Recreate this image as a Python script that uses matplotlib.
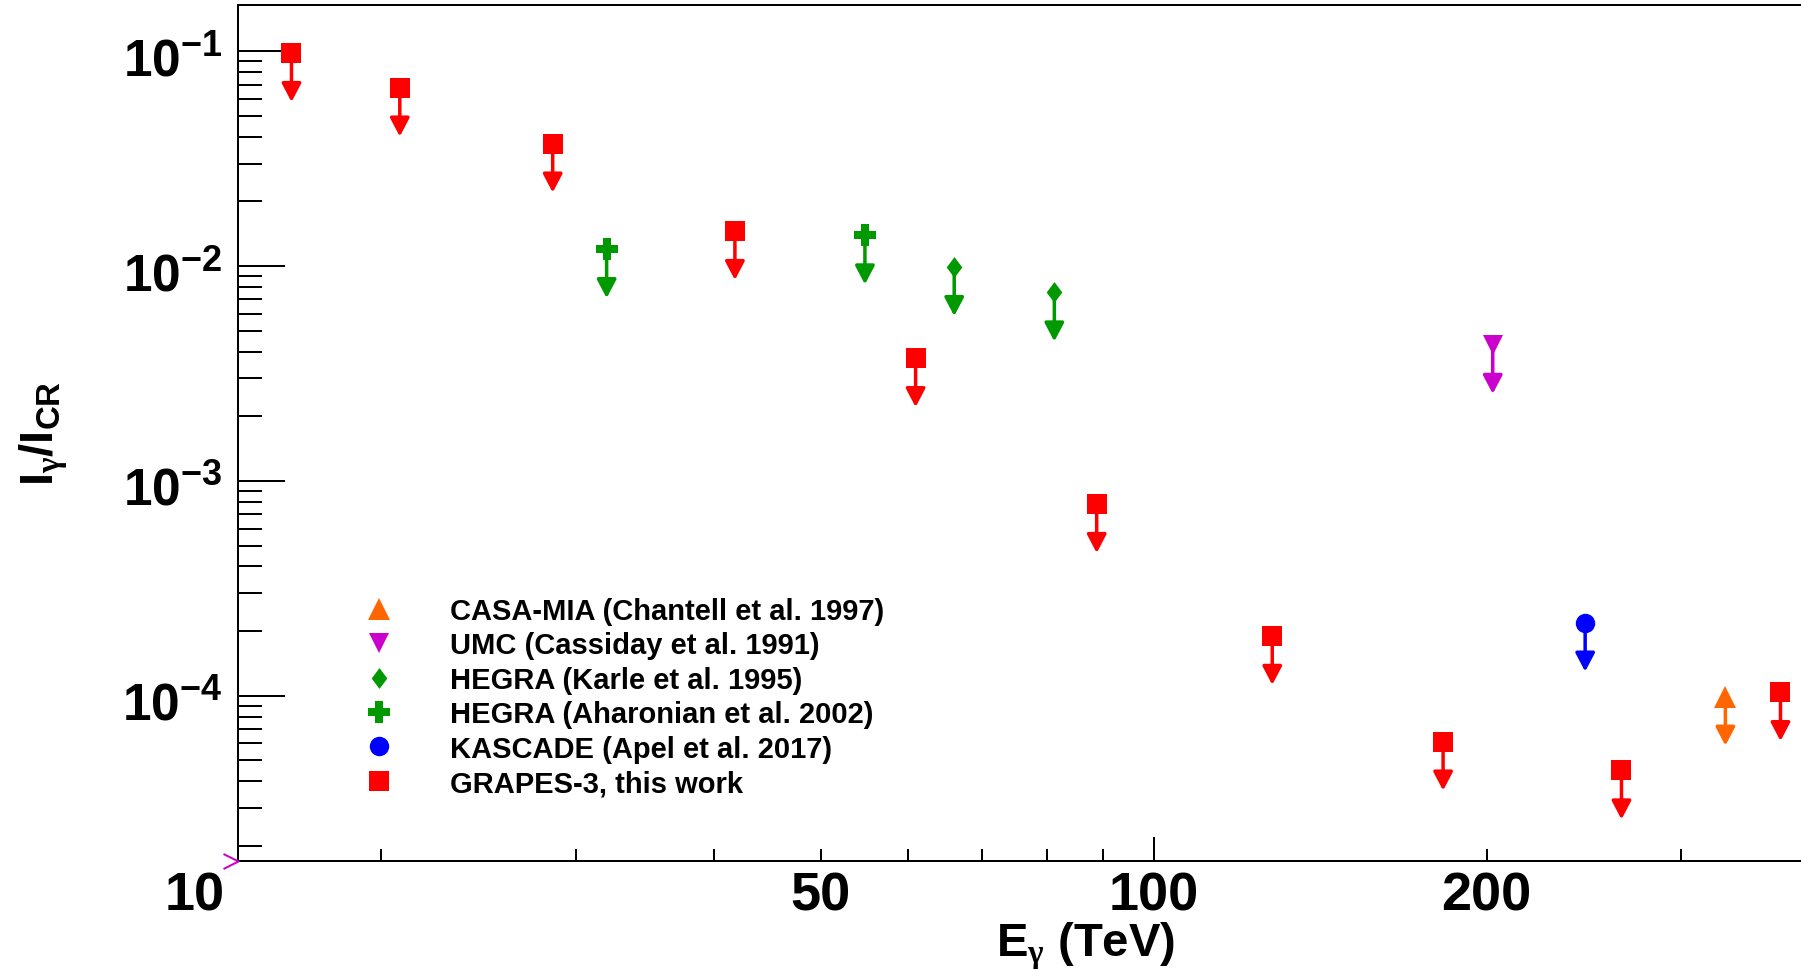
import numpy as np
import matplotlib
matplotlib.use('Agg')
import matplotlib.pyplot as plt
from matplotlib.lines import Line2D
from matplotlib.path import Path
from matplotlib.ticker import NullFormatter, LogLocator
from matplotlib.transforms import ScaledTranslation

plt.rcParams['font.family'] = 'Liberation Sans'
plt.rcParams['font.weight'] = 'bold'
plt.rcParams['mathtext.fontset'] = 'custom'
plt.rcParams['mathtext.rm'] = 'Liberation Sans:bold'
plt.rcParams['mathtext.it'] = 'Liberation Sans:bold'
plt.rcParams['mathtext.bf'] = 'Liberation Sans:bold'
plt.rcParams['mathtext.sf'] = 'Liberation Serif'

# upper limits, E in TeV, I_gamma/I_CR
grapes_e  = [16.6, 20.8, 28.6, 41.8, 60.9, 88.8, 128.0, 182.7, 264.9, 368.9]
grapes_ul = [0.0982, 0.0678, 0.0372, 0.01457, 0.00373, 7.81e-4, 1.90e-4, 6.12e-5, 4.49e-5, 1.04e-4]
hegra02_e  = [32.0, 54.8]
hegra02_ul = [0.0120, 0.0139]
hegra95_e  = [66.0, 81.3]
hegra95_ul = [0.0099, 0.00754]
umc_e  = [202.6]
umc_ul = [4.3e-3]
kascade_e  = [245.6]
kascade_ul = [2.19e-4]
casa_e  = [328.9]
casa_ul = [9.9e-5]

labels = ['CASA-MIA (Chantell et al. 1997)', 'UMC (Cassiday et al. 1991)',
          'HEGRA (Karle et al. 1995)', 'HEGRA (Aharonian et al. 2002)',
          'KASCADE (Apel et al. 2017)', 'GRAPES-3, this work']

xticks = [50, 100, 200]
xtick_labels = ['50', '100', '200']
xminor = [20, 30, 40, 60, 70, 80, 90, 300]
yticks = [1e-4, 1e-3, 1e-2, 1e-1]
ytick_labels = [r'$10^{-4}$', r'$10^{-3}$', r'$10^{-2}$', r'$10^{-1}$']

red = '#ff0000'
green = '#009900'
magenta = '#cc00cc'
blue = '#0000ff'
orange = '#ff6600'

diamond = Path([(0, 1), (0.75, 0), (0, -1), (-0.75, 0), (0, 1)])
chevron = Path([(-2, 1), (0, 0), (-2, -1)], [Path.MOVETO, Path.LINETO, Path.LINETO])

px = 0.72  # points per pixel at dpi 100

fig = plt.figure(figsize=(18.01, 9.70), dpi=100)
ax = fig.add_axes([238/1801, 108/970, 1563/1801, 856/970])
ax.set_xscale('log')
ax.set_yscale('log')
ax.set_xlim(14.85, 385)
ax.set_ylim(1.70e-5, 0.1642)

for s in ['left', 'bottom', 'top']:
    ax.spines[s].set_linewidth(2*px)
ax.spines['right'].set_visible(False)

def ul_arrows(xs, ys, color):
    for x, y in zip(xs, ys):
        ax.annotate('', xy=(x, y), xytext=(0, -49*px), textcoords='offset points',
                    arrowprops=dict(arrowstyle='<|-,head_length=0.8,head_width=0.42',
                                    color=color, lw=3.5*px, shrinkA=0, shrinkB=0,
                                    mutation_scale=14))

series = [
    (casa_e, casa_ul, orange, '^', 15.5),
    (umc_e, umc_ul, magenta, 'v', 15),
    (hegra95_e, hegra95_ul, green, diamond, 15),
    (hegra02_e, hegra02_ul, green, 'P', 16.5),
    (kascade_e, kascade_ul, blue, 'o', 14),
    (grapes_e, grapes_ul, red, 's', 13.9),
]

handles = []
for (xs, ys, c, m, ms), lab in zip(series, labels):
    ul_arrows(xs, ys, c)
    ax.plot(xs, ys, ls='none', marker=m, ms=ms, color=c, mew=0, zorder=5)
    handles.append(Line2D([], [], ls='none', marker=m, ms=ms, color=c, mew=0))

leg = ax.legend(handles, labels, loc='upper left', bbox_to_anchor=(351/1801, 1-598/970),
                bbox_transform=fig.transFigure, frameon=False, borderpad=0, borderaxespad=0,
                handlelength=1.9, handletextpad=1.5, labelspacing=0.22,
                prop={'family': 'Liberation Sans', 'weight': 'bold', 'size': 21})

# ticks
ax.set_xticks(xticks, labels=xtick_labels)
ax.set_xticks(xminor, minor=True)
ax.xaxis.set_minor_formatter(NullFormatter())
ax.set_yticks(yticks, labels=ytick_labels)
ax.yaxis.set_minor_locator(LogLocator(base=10, subs=np.arange(2, 10)))
ax.yaxis.set_minor_formatter(NullFormatter())
ax.tick_params(axis='x', which='both', direction='in', length=12*px, width=2*px,
               labelsize=39, pad=7, top=False)
ax.tick_params(axis='y', which='major', direction='in', length=47*px, width=2*px,
               labelsize=37, pad=11, right=False)
ax.tick_params(axis='y', which='minor', direction='in', length=24*px, width=2*px, right=False)
ax.xaxis.get_major_ticks()[1].tick1line.set_markersize(24*px)
for lab in ax.get_yticklabels():
    lab.set_transform(lab.get_transform() + ScaledTranslation(0, -0.045, fig.dpi_scale_trans))

ax.annotate('10', xy=(0, 0), xycoords='axes fraction', xytext=(-13*px, -10*px),
            textcoords='offset points', ha='right', va='top', fontsize=39)
ax.plot([0], [0], transform=ax.transAxes, marker=chevron, ms=30*px, mew=2*px,
        color=magenta, fillstyle='none', clip_on=False, zorder=6)

fig.text(1086/1801, 1-957/970, r'$E_{\mathsf{\gamma}}$ (TeV)', ha='center', va='baseline',
         fontsize=34)
fig.text(44/1801, 1-433/970, r'$I_{\mathsf{\gamma}}/I_{CR}$', rotation=90,
         ha='center', va='center', fontsize=34)

fig.savefig('out.png', dpi=100)
